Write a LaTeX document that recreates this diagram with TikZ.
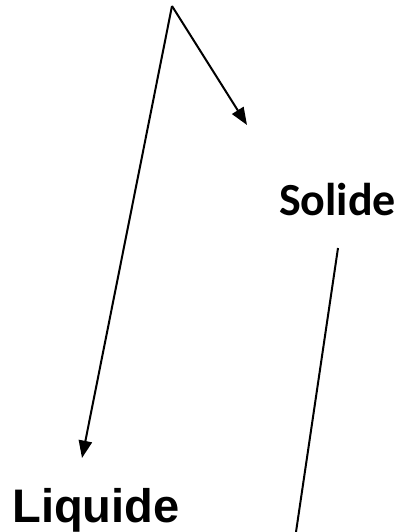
\documentclass[tikz,border=0pt]{standalone}
\usepackage{fontspec}
\setmainfont{Liberation Sans}
\newfontfamily\calibrifont{Carlito}
\usepackage{tikz}
\usetikzlibrary{arrows.meta,positioning}

\begin{document}
\begin{tikzpicture}[x=0.75pt, y=-0.75pt, >={Triangle[length=13pt,width=10pt]},
  lbl/.style={anchor=base,inner sep=0pt,font=\bfseries},
  link/.style={line width=1.5pt}]
  \useasboundingbox (0,0) rectangle (403,532);
% --- branch point and ends ---
  \coordinate (top) at (172,6);
  \coordinate (tipS) at (247,125);
  \coordinate (tipL) at (82,458);
  \coordinate (fromS) at (338,248);
  \coordinate (downS) at (296,532);
% --- labels ---
  \node[lbl,font=\calibrifont\bfseries\fontsize{34.5}{40}\selectfont] (solide) at (337.5,215) {Solide};
  \node[lbl,font=\bfseries\fontsize{35.3}{42}\selectfont] (liquide) at (96,522) {Liquide};
% --- connectors ---
  \draw[link,->] (top)--(tipS);
  \draw[link,->] (top)--(tipL);
  \draw[link] (fromS)--(downS);
\end{tikzpicture}
\end{document}
